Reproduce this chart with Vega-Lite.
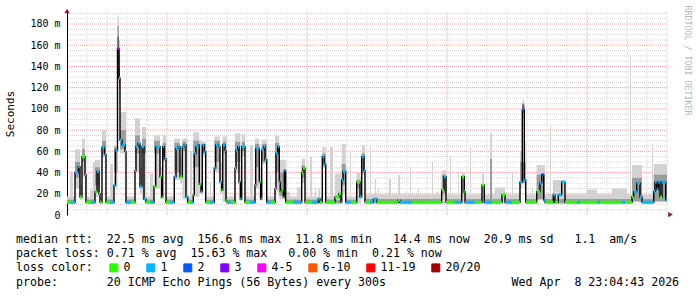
{
 "$schema": "https://vega.github.io/schema/vega-lite/v6.json",
 "width": 600,
 "height": 203,
 "autosize": {"type": "none"},
 "padding": {"left": 67, "top": 12, "right": 30, "bottom": 82},
 "background": "white",
 "config": {"view": {"stroke": null}, "font": "DejaVu Sans Mono"},
 "title": {
  "text": [
   "median rtt:\u00a0\u00a022.5 ms avg\u00a0\u00a0156.6 ms max\u00a0\u00a011.8 ms min\u00a0\u00a0\u00a014.4 ms now\u00a0\u00a020.9 ms sd\u00a0\u00a0\u00a01.1\u00a0\u00a0am/s",
   "packet loss:\u00a00.71 % avg\u00a0\u00a015.63 % max\u00a0\u00a0\u00a00.00 % min\u00a0\u00a00.21 % now"
  ],
  "subtitle": "probe:\u00a0\u00a0\u00a0\u00a0\u00a0\u00a0\u00a020 ICMP Echo Pings (56 Bytes) every 300s\u00a0\u00a0\u00a0\u00a0\u00a0\u00a0\u00a0\u00a0\u00a0\u00a0\u00a0\u00a0\u00a0\u00a0\u00a0\u00a0\u00a0\u00a0Wed Apr\u00a0\u00a08 23:04:43 2026",
  "orient": "bottom", "anchor": "start", "frame": "group", "dx": -51, "dy": -56, "offset": 16,
  "font": "DejaVu Sans Mono", "fontSize": 11.6, "fontWeight": "normal", "color": "#000", "lineHeight": 13.7,
  "subtitleFont": "DejaVu Sans Mono", "subtitleFontSize": 11.6, "subtitleFontWeight": "normal", "subtitleColor": "#000", "subtitlePadding": 17.5
 },
 "datasets": {
  "grid": [
   {"d":"h","v":5,"k":"mi"},{"d":"h","v":10,"k":"mi"},{"d":"h","v":15,"k":"mi"},{"d":"h","v":25,"k":"mi"},{"d":"h","v":30,"k":"mi"},{"d":"h","v":35,"k":"mi"},{"d":"h","v":45,"k":"mi"},{"d":"h","v":50,"k":"mi"},{"d":"h","v":55,"k":"mi"},{"d":"h","v":65,"k":"mi"},{"d":"h","v":70,"k":"mi"},{"d":"h","v":75,"k":"mi"},{"d":"h","v":85,"k":"mi"},{"d":"h","v":90,"k":"mi"},{"d":"h","v":95,"k":"mi"},{"d":"h","v":105,"k":"mi"},{"d":"h","v":110,"k":"mi"},{"d":"h","v":115,"k":"mi"},{"d":"h","v":125,"k":"mi"},{"d":"h","v":130,"k":"mi"},{"d":"h","v":135,"k":"mi"},{"d":"h","v":145,"k":"mi"},{"d":"h","v":150,"k":"mi"},{"d":"h","v":155,"k":"mi"},{"d":"h","v":165,"k":"mi"},{"d":"h","v":170,"k":"mi"},{"d":"h","v":175,"k":"mi"},{"d":"h","v":185,"k":"mi"},{"d":"h","v":190,"k":"mi"},
   {"d":"h","v":20,"k":"ma"},{"d":"h","v":40,"k":"ma"},{"d":"h","v":60,"k":"ma"},{"d":"h","v":80,"k":"ma"},{"d":"h","v":100,"k":"ma"},{"d":"h","v":120,"k":"ma"},{"d":"h","v":140,"k":"ma"},{"d":"h","v":160,"k":"ma"},{"d":"h","v":180,"k":"ma"},
   {"d":"v","v":20,"k":"mi"},{"d":"v","v":40,"k":"mi"},{"d":"v","v":60,"k":"mi"},{"d":"v","v":80,"k":"mi"},{"d":"v","v":120,"k":"mi"},{"d":"v","v":140,"k":"mi"},{"d":"v","v":160,"k":"mi"},{"d":"v","v":180,"k":"mi"},{"d":"v","v":200,"k":"mi"},{"d":"v","v":220,"k":"mi"},{"d":"v","v":260,"k":"mi"},{"d":"v","v":280,"k":"mi"},{"d":"v","v":300,"k":"mi"},{"d":"v","v":320,"k":"mi"},{"d":"v","v":340,"k":"mi"},{"d":"v","v":360,"k":"mi"},{"d":"v","v":400,"k":"mi"},{"d":"v","v":420,"k":"mi"},{"d":"v","v":440,"k":"mi"},{"d":"v","v":460,"k":"mi"},{"d":"v","v":480,"k":"mi"},{"d":"v","v":500,"k":"mi"},{"d":"v","v":540,"k":"mi"},{"d":"v","v":560,"k":"mi"},{"d":"v","v":580,"k":"mi"},{"d":"v","v":600,"k":"mi"},
   {"d":"v","v":100,"k":"ma"},{"d":"v","v":240,"k":"ma"},{"d":"v","v":380,"k":"ma"},{"d":"v","v":520,"k":"ma"}
  ],
  "arrows": [
   {"s":0,"v":192.2,"sh":"triangle-up"},
   {"s":603.5,"v":0.4,"sh":"triangle-right"}
  ],
  "med": [
   {"a":0,"b":4,"m":12,"lc":"0"},{"a":4,"b":8,"m":12,"lc":"1"},{"a":8,"b":11.3,"m":40,"lc":"1"},{"a":11.3,"b":13,"m":45.5,"lc":"1"},{"a":13,"b":15,"m":17,"lc":"0"},{"a":15,"b":18,"m":55,"lc":"0"},{"a":18,"b":19,"m":38,"lc":"1"},{"a":19,"b":24,"m":12,"lc":"0"},{"a":24,"b":28,"m":12,"lc":"1"},{"a":28,"b":30,"m":22,"lc":"0"},{"a":30,"b":32,"m":41,"lc":"1"},{"a":32,"b":33,"m":20,"lc":"0"},{"a":33,"b":35,"m":12,"lc":"0"},{"a":35,"b":37.5,"m":64,"lc":"1"},{"a":37.5,"b":39,"m":57,"lc":"1"},{"a":39,"b":43,"m":12,"lc":"0"},{"a":43,"b":47,"m":12,"lc":"1"},{"a":47,"b":48.5,"m":28,"lc":"1"},{"a":48.5,"b":50.5,"m":61,"lc":"1"},{"a":50.5,"b":52,"m":157,"lc":"4-5"},{"a":52,"b":53,"m":129,"lc":"1"},{"a":53,"b":55,"m":70.7,"lc":"1"},{"a":55,"b":58,"m":66,"lc":"1"},{"a":58,"b":59,"m":59.7,"lc":"1"},{"a":59,"b":64,"m":12,"lc":"1"},{"a":64,"b":68,"m":12,"lc":"0"},{"a":68,"b":69,"m":42,"lc":"1"},{"a":69,"b":71,"m":64.4,"lc":"1"},{"a":71,"b":73,"m":67.5,"lc":"1"},{"a":73,"b":75,"m":26.7,"lc":"1"},{"a":75,"b":77,"m":64.4,"lc":"1"},{"a":77,"b":79,"m":15,"lc":"1"},{"a":79,"b":83,"m":12,"lc":"0"},{"a":83,"b":87,"m":12,"lc":"1"},{"a":87,"b":88.7,"m":27,"lc":"0"},{"a":88.7,"b":93,"m":64.4,"lc":"1"},{"a":93,"b":94.7,"m":36,"lc":"0"},{"a":94.7,"b":95.7,"m":17,"lc":"0"},{"a":95.7,"b":97.3,"m":64.4,"lc":"1"},{"a":97.3,"b":99,"m":53,"lc":"1"},
   {"a":99,"b":103,"m":12,"lc":"0"},{"a":103,"b":107.3,"m":12,"lc":"1"},{"a":107.3,"b":109,"m":36,"lc":"1"},{"a":109,"b":111.3,"m":62.8,"lc":"1"},{"a":111.3,"b":113,"m":64.4,"lc":"1"},{"a":113,"b":115.3,"m":36,"lc":"0"},{"a":115.3,"b":117.3,"m":64.4,"lc":"1"},{"a":117.3,"b":119,"m":66,"lc":"1"},{"a":119,"b":120.7,"m":17,"lc":"1"},{"a":120.7,"b":124,"m":12,"lc":"0"},{"a":124,"b":126.3,"m":12,"lc":"1"},{"a":126.3,"b":127.3,"m":19,"lc":"0"},{"a":127.3,"b":129,"m":58,"lc":"1"},{"a":129,"b":131.3,"m":64.4,"lc":"1"},{"a":131.3,"b":132.3,"m":66,"lc":"1"},{"a":132.3,"b":134,"m":29,"lc":"0"},{"a":134,"b":135.3,"m":22,"lc":"1"},{"a":135.3,"b":137.3,"m":66,"lc":"1"},{"a":137.3,"b":138.7,"m":59.7,"lc":"1"},{"a":138.7,"b":143,"m":12,"lc":"0"},{"a":143,"b":147.3,"m":12,"lc":"1"},{"a":147.3,"b":148.7,"m":44,"lc":"1"},{"a":148.7,"b":151.3,"m":66,"lc":"1"},{"a":151.3,"b":153,"m":64.4,"lc":"1"},{"a":153,"b":154.7,"m":31,"lc":"1"},{"a":154.7,"b":155.7,"m":23.6,"lc":"0"},{"a":155.7,"b":158,"m":66,"lc":"1"},{"a":158,"b":159,"m":61,"lc":"1"},{"a":159,"b":160,"m":13.6,"lc":"0"},{"a":160,"b":164,"m":12,"lc":"1"},{"a":164,"b":168,"m":12,"lc":"0"},{"a":168,"b":169,"m":44,"lc":"0"},{"a":169,"b":170.7,"m":61,"lc":"1"},{"a":170.7,"b":172,"m":64.4,"lc":"1"},{"a":172,"b":173.3,"m":31,"lc":"1"},{"a":173.3,"b":174.7,"m":15,"lc":"1"},{"a":174.7,"b":178,"m":64.4,"lc":"1"},{"a":178,"b":183,"m":12,"lc":"0"},{"a":183,"b":188,"m":12,"lc":"1"},{"a":188,"b":188.7,"m":28,"lc":"0"},{"a":188.7,"b":192.3,"m":62.8,"lc":"1"},{"a":192.3,"b":193.7,"m":31,"lc":"0"},{"a":193.7,"b":194.7,"m":15,"lc":"0"},{"a":194.7,"b":197,"m":61,"lc":"1"},{"a":197,"b":198,"m":64.4,"lc":"1"},{"a":198,"b":199.7,"m":52,"lc":"1"},
   {"a":199.7,"b":204,"m":12,"lc":"1"},{"a":204,"b":208,"m":12,"lc":"0"},{"a":208,"b":209,"m":25,"lc":"0"},{"a":209,"b":210.7,"m":58,"lc":"1"},{"a":210.7,"b":212.3,"m":64.4,"lc":"1"},{"a":212.3,"b":213.3,"m":31,"lc":"0"},{"a":213.3,"b":214.7,"m":22,"lc":"0"},{"a":214.7,"b":216.3,"m":23.6,"lc":"0"},{"a":216.3,"b":217.3,"m":17,"lc":"0"},{"a":217.3,"b":218.7,"m":42,"lc":"1"},{"a":218.7,"b":226,"m":12,"lc":"0"},{"a":226,"b":234.7,"m":12,"lc":"1"},{"a":234.7,"b":236,"m":40,"lc":"0"},{"a":236,"b":238,"m":44,"lc":"0"},{"a":238,"b":245,"m":12,"lc":"0"},{"a":245,"b":251.3,"m":12,"lc":"1"},{"a":251.3,"b":253,"m":15,"lc":"1"},{"a":253,"b":255.3,"m":12,"lc":"0"},{"a":255.3,"b":257.3,"m":55,"lc":"1"},{"a":257.3,"b":258.7,"m":48,"lc":"1"},{"a":258.7,"b":268,"m":12,"lc":"0"},{"a":268,"b":272,"m":17,"lc":"0"},{"a":272,"b":274,"m":20,"lc":"0"},{"a":274,"b":274.7,"m":12,"lc":"0"},{"a":274.7,"b":276,"m":33,"lc":"1"},{"a":276,"b":278.7,"m":41,"lc":"1"},{"a":278.7,"b":284,"m":12,"lc":"1"},{"a":284,"b":289.7,"m":12,"lc":"0"},{"a":289.7,"b":293,"m":31,"lc":"0"},{"a":293,"b":294.7,"m":17,"lc":"1"},{"a":294.7,"b":297,"m":55,"lc":"1"},{"a":297,"b":298,"m":42,"lc":"1"},
   {"a":298,"b":303,"m":12,"lc":"0"},{"a":303,"b":306.3,"m":12,"lc":"1"},{"a":306.3,"b":309.7,"m":15,"lc":"1"},{"a":309.7,"b":320,"m":12,"lc":"0"},{"a":320,"b":331,"m":12,"lc":"0"},{"a":331,"b":333,"m":14,"lc":"0"},{"a":333,"b":345,"m":12,"lc":"1"},{"a":345,"b":360,"m":12,"lc":"0"},{"a":360,"b":374.7,"m":12,"lc":"0"},{"a":374.7,"b":377,"m":23.6,"lc":"0"},{"a":377,"b":379,"m":36,"lc":"1"},{"a":379,"b":388,"m":12,"lc":"0"},{"a":388,"b":394.7,"m":12,"lc":"1"},{"a":394.7,"b":397.3,"m":36,"lc":"0"},{"a":397.3,"b":398,"m":22,"lc":"0"},{"a":398,"b":408,"m":12,"lc":"1"},{"a":408,"b":415,"m":12,"lc":"0"},{"a":415,"b":417.3,"m":28,"lc":"0"},{"a":417.3,"b":425,"m":12,"lc":"1"},{"a":425,"b":435,"m":12,"lc":"0"},{"a":435,"b":438,"m":19,"lc":"0"},{"a":438,"b":445,"m":12,"lc":"1"},{"a":445,"b":453,"m":12,"lc":"0"},{"a":453,"b":455.3,"m":31,"lc":"1"},{"a":455.3,"b":457.3,"m":99,"lc":"2"},{"a":457.3,"b":458.7,"m":33,"lc":"1"},{"a":458.7,"b":469.7,"m":12,"lc":"0"},{"a":469.7,"b":473,"m":22,"lc":"0"},{"a":473,"b":474.7,"m":30,"lc":"1"},{"a":474.7,"b":476.7,"m":38,"lc":"2"},{"a":476.7,"b":478,"m":14,"lc":"1"},{"a":478,"b":486.3,"m":12,"lc":"0"},{"a":486.3,"b":488,"m":19,"lc":"1"},{"a":488,"b":491.3,"m":12,"lc":"0"},{"a":491.3,"b":494.7,"m":19,"lc":"1"},{"a":494.7,"b":498,"m":31,"lc":"1"},
   {"a":498,"b":510,"m":12,"lc":"0"},{"a":510,"b":513,"m":12,"lc":"1"},{"a":513,"b":530,"m":12,"lc":"0"},{"a":530,"b":533,"m":12,"lc":"1"},{"a":533,"b":555,"m":12,"lc":"0"},{"a":555,"b":558,"m":12,"lc":"1"},{"a":558,"b":565,"m":12,"lc":"0"},{"a":565,"b":566.7,"m":17,"lc":"0"},{"a":566.7,"b":569.7,"m":22,"lc":"1"},{"a":569.7,"b":573,"m":30,"lc":"1"},{"a":573,"b":575,"m":17,"lc":"1"},{"a":575,"b":586.7,"m":12,"lc":"1"},{"a":586.7,"b":588,"m":22,"lc":"1"},{"a":588,"b":589.7,"m":31,"lc":"1"},{"a":589.7,"b":591.3,"m":24,"lc":"1"},{"a":591.3,"b":593,"m":31,"lc":"1"},{"a":593,"b":595,"m":17,"lc":"0"},{"a":595,"b":598.7,"m":31,"lc":"1"},{"a":598.7,"b":600,"m":14.4,"lc":"1"},{"a":600,"b":600,"m":14.4,"lc":"1"}
  ],
  "smoke": [
   {"a":0,"b":8,"lo":10.8,"hi":17.5,"g":"l"},{"a":19,"b":28,"lo":10.8,"hi":17.5,"g":"l"},{"a":33,"b":35,"lo":10.8,"hi":17.5,"g":"l"},{"a":39,"b":47,"lo":10.8,"hi":17.5,"g":"l"},{"a":59,"b":68,"lo":10.8,"hi":17.5,"g":"l"},{"a":79,"b":87,"lo":10.8,"hi":17.5,"g":"l"},{"a":99,"b":107.3,"lo":10.8,"hi":17.5,"g":"l"},{"a":120.7,"b":126.3,"lo":10.8,"hi":17.5,"g":"l"},{"a":138.7,"b":147.3,"lo":10.8,"hi":17.5,"g":"l"},{"a":160,"b":168,"lo":10.8,"hi":17.5,"g":"l"},{"a":178,"b":188,"lo":10.8,"hi":17.5,"g":"l"},{"a":199.7,"b":208,"lo":10.8,"hi":17.5,"g":"l"},{"a":218.7,"b":234.7,"lo":10.8,"hi":17.5,"g":"l"},{"a":238,"b":255.3,"lo":10.8,"hi":17.5,"g":"l"},{"a":258.7,"b":274.7,"lo":10.8,"hi":17.5,"g":"l"},{"a":278.7,"b":289.7,"lo":10.8,"hi":17.5,"g":"l"},
   {"a":298,"b":374.7,"lo":10.8,"hi":19.5,"g":"l"},{"a":379,"b":394.7,"lo":10.8,"hi":19.5,"g":"l"},{"a":398,"b":415,"lo":10.8,"hi":19.5,"g":"l"},{"a":417.3,"b":435,"lo":10.8,"hi":19.5,"g":"l"},{"a":438,"b":453,"lo":10.8,"hi":19.5,"g":"l"},{"a":458.7,"b":469.7,"lo":10.8,"hi":19.5,"g":"l"},{"a":478,"b":565,"lo":10.8,"hi":19.5,"g":"l"},{"a":575,"b":586.7,"lo":10.8,"hi":19.5,"g":"l"},
   {"a":3,"b":6,"lo":10.8,"hi":41,"g":"l"},{"a":23,"b":26,"lo":10.8,"hi":24,"g":"l"},{"a":26,"b":28,"lo":10.8,"hi":50,"g":"l"},{"a":43,"b":46,"lo":10.8,"hi":48,"g":"l"},{"a":83,"b":86,"lo":10.8,"hi":39,"g":"l"},
   {"a":123,"b":125,"lo":10.8,"hi":60,"g":"l"},{"a":143,"b":144,"lo":10.8,"hi":31,"g":"l"},{"a":183,"b":186,"lo":10.8,"hi":66,"g":"l"},{"a":203,"b":204,"lo":10.8,"hi":38,"g":"l"},
   {"a":220,"b":223,"lo":10.8,"hi":22,"g":"l"},{"a":230,"b":234.7,"lo":10.8,"hi":26,"g":"l"},{"a":243,"b":245,"lo":10.8,"hi":55,"g":"l"},{"a":248,"b":249,"lo":10.8,"hi":25,"g":"l"},{"a":263,"b":266,"lo":10.8,"hi":64,"g":"l"},{"a":268,"b":274,"lo":10.8,"hi":39,"g":"l"},{"a":283,"b":284,"lo":10.8,"hi":61,"g":"l"},{"a":289,"b":294,"lo":10.8,"hi":36,"g":"l"},
   {"a":303,"b":304,"lo":10.8,"hi":64,"g":"l"},{"a":308,"b":309,"lo":10.8,"hi":34,"g":"l"},{"a":311,"b":312,"lo":10.8,"hi":25,"g":"l"},{"a":322,"b":324,"lo":10.8,"hi":34,"g":"l"},{"a":331,"b":333,"lo":10.8,"hi":38,"g":"l"},{"a":343,"b":344,"lo":10.8,"hi":45,"g":"l"},{"a":351,"b":352,"lo":10.8,"hi":25,"g":"l"},{"a":365,"b":366,"lo":10.8,"hi":50,"g":"l"},{"a":370,"b":371,"lo":10.8,"hi":22,"g":"l"},{"a":376,"b":378,"lo":10.8,"hi":40,"g":"l"},{"a":383,"b":384,"lo":10.8,"hi":55,"g":"l"},{"a":391,"b":392,"lo":10.8,"hi":39,"g":"l"},{"a":395,"b":397,"lo":10.8,"hi":36,"g":"l"},
   {"a":403,"b":404,"lo":10.8,"hi":64,"g":"l"},{"a":415,"b":417,"lo":10.8,"hi":39,"g":"l"},{"a":423,"b":425,"lo":10.8,"hi":77,"g":"l"},{"a":428,"b":438,"lo":10.8,"hi":26,"g":"l"},{"a":445,"b":446,"lo":10.8,"hi":41,"g":"l"},{"a":465,"b":466,"lo":10.8,"hi":25,"g":"l"},{"a":483,"b":484,"lo":10.8,"hi":84,"g":"l"},{"a":486,"b":498,"lo":10.8,"hi":33,"g":"l"},
   {"a":520,"b":530,"lo":10.8,"hi":24,"g":"l"},{"a":545,"b":560,"lo":10.8,"hi":25,"g":"l"},{"a":563,"b":564,"lo":10.8,"hi":151,"g":"l"},{"a":585,"b":586,"lo":10.8,"hi":67,"g":"l"},
   {"a":8,"b":13,"lo":25,"hi":62,"g":"l"},{"a":13,"b":15,"lo":14,"hi":30,"g":"l"},{"a":15,"b":18,"lo":36,"hi":72,"g":"l"},{"a":18,"b":19,"lo":20,"hi":50,"g":"l"},{"a":28,"b":33,"lo":17,"hi":52,"g":"l"},{"a":35,"b":39,"lo":54,"hi":80,"g":"l"},{"a":47,"b":50.5,"lo":26,"hi":66,"g":"l"},{"a":50.5,"b":52,"lo":128,"hi":188,"g":"l"},{"a":52,"b":53,"lo":105,"hi":165,"g":"l"},{"a":53,"b":59,"lo":58,"hi":97,"g":"l"},{"a":68,"b":73,"lo":40,"hi":91,"g":"l"},{"a":73,"b":75,"lo":20,"hi":45,"g":"l"},{"a":75,"b":79,"lo":14,"hi":83,"g":"l"},{"a":87,"b":93,"lo":25,"hi":75,"g":"l"},{"a":93,"b":95.7,"lo":15,"hi":45,"g":"l"},{"a":95.7,"b":99,"lo":50,"hi":75,"g":"l"},
   {"a":107.3,"b":113,"lo":33,"hi":72,"g":"l"},{"a":113,"b":115.3,"lo":30,"hi":55,"g":"l"},{"a":115.3,"b":120.7,"lo":15,"hi":72,"g":"l"},{"a":126.3,"b":132.3,"lo":17,"hi":78,"g":"l"},{"a":132.3,"b":135.3,"lo":20,"hi":70,"g":"l"},{"a":135.3,"b":138.7,"lo":55,"hi":69,"g":"l"},{"a":147.3,"b":153,"lo":40,"hi":74,"g":"l"},{"a":153,"b":155.7,"lo":20,"hi":50,"g":"l"},{"a":155.7,"b":160,"lo":12,"hi":74,"g":"l"},{"a":168,"b":173.3,"lo":40,"hi":77,"g":"l"},{"a":173.3,"b":174.7,"lo":14,"hi":45,"g":"l"},{"a":174.7,"b":178,"lo":55,"hi":76,"g":"l"},{"a":188,"b":192.3,"lo":25,"hi":72,"g":"l"},{"a":192.3,"b":194.7,"lo":14,"hi":45,"g":"l"},{"a":194.7,"b":199.7,"lo":48,"hi":71,"g":"l"},
   {"a":208,"b":212.3,"lo":22,"hi":75,"g":"l"},{"a":212.3,"b":218.7,"lo":15,"hi":52,"g":"l"},{"a":234.7,"b":238,"lo":30,"hi":53,"g":"l"},{"a":251.3,"b":253,"lo":12,"hi":25,"g":"l"},{"a":255.3,"b":258.7,"lo":44,"hi":64,"g":"l"},{"a":274.7,"b":278.7,"lo":20,"hi":67,"g":"l"},{"a":289.7,"b":293,"lo":25,"hi":40,"g":"l"},{"a":294.7,"b":298,"lo":38,"hi":66,"g":"l"},
   {"a":374.7,"b":379,"lo":18,"hi":42,"g":"l"},{"a":394.7,"b":398,"lo":18,"hi":40,"g":"l"},
   {"a":453,"b":455.3,"lo":25,"hi":60,"g":"l"},{"a":455.3,"b":457.3,"lo":90,"hi":108,"g":"l"},{"a":457.3,"b":458.7,"lo":25,"hi":70,"g":"l"},{"a":469.7,"b":478,"lo":14,"hi":47,"g":"l"},
   {"a":565,"b":575,"lo":12,"hi":47,"g":"l"},{"a":586.7,"b":600,"lo":12,"hi":48,"g":"l"},
   {"a":0,"b":8,"lo":11,"hi":14.5,"g":"m"},{"a":19,"b":28,"lo":11,"hi":14.5,"g":"m"},{"a":33,"b":35,"lo":11,"hi":14.5,"g":"m"},{"a":39,"b":47,"lo":11,"hi":14.5,"g":"m"},{"a":59,"b":68,"lo":11,"hi":14.5,"g":"m"},{"a":79,"b":87,"lo":11,"hi":14.5,"g":"m"},{"a":99,"b":107.3,"lo":11,"hi":14.5,"g":"m"},{"a":120.7,"b":126.3,"lo":11,"hi":14.5,"g":"m"},{"a":138.7,"b":147.3,"lo":11,"hi":14.5,"g":"m"},{"a":160,"b":168,"lo":11,"hi":14.5,"g":"m"},{"a":178,"b":188,"lo":11,"hi":14.5,"g":"m"},{"a":199.7,"b":208,"lo":11,"hi":14.5,"g":"m"},{"a":218.7,"b":234.7,"lo":11,"hi":14.5,"g":"m"},{"a":238,"b":255.3,"lo":11,"hi":14.5,"g":"m"},{"a":258.7,"b":274.7,"lo":11,"hi":14.5,"g":"m"},{"a":278.7,"b":289.7,"lo":11,"hi":14.5,"g":"m"},
   {"a":298,"b":374.7,"lo":11,"hi":15,"g":"m"},{"a":379,"b":394.7,"lo":11,"hi":15,"g":"m"},{"a":398,"b":415,"lo":11,"hi":15,"g":"m"},{"a":417.3,"b":435,"lo":11,"hi":15,"g":"m"},{"a":438,"b":453,"lo":11,"hi":15,"g":"m"},{"a":458.7,"b":469.7,"lo":11,"hi":15,"g":"m"},{"a":478,"b":565,"lo":11,"hi":15,"g":"m"},{"a":575,"b":586.7,"lo":11,"hi":15,"g":"m"},
   {"a":8,"b":13,"lo":35,"hi":50,"g":"m"},{"a":15,"b":18,"lo":50,"hi":62,"g":"m"},{"a":28,"b":33,"lo":28,"hi":45,"g":"m"},{"a":35,"b":39,"lo":58,"hi":70,"g":"m"},{"a":47,"b":50.5,"lo":40,"hi":64,"g":"m"},{"a":50.5,"b":52,"lo":145,"hi":178,"g":"m"},{"a":52,"b":53,"lo":120,"hi":150,"g":"m"},{"a":53,"b":59,"lo":62,"hi":80,"g":"m"},{"a":68,"b":73,"lo":58,"hi":75,"g":"m"},{"a":75,"b":79,"lo":58,"hi":72,"g":"m"},{"a":87,"b":93,"lo":58,"hi":70,"g":"m"},{"a":95.7,"b":99,"lo":52,"hi":68,"g":"m"},
   {"a":107.3,"b":113,"lo":40,"hi":68,"g":"m"},{"a":115.3,"b":119,"lo":60,"hi":69,"g":"m"},{"a":126.3,"b":132.3,"lo":45,"hi":70,"g":"m"},{"a":135.3,"b":138.7,"lo":58,"hi":67,"g":"m"},{"a":147.3,"b":153,"lo":50,"hi":70,"g":"m"},{"a":155.7,"b":159,"lo":58,"hi":69,"g":"m"},{"a":168,"b":173.3,"lo":50,"hi":69,"g":"m"},{"a":174.7,"b":178,"lo":60,"hi":69,"g":"m"},{"a":188,"b":192.3,"lo":45,"hi":67,"g":"m"},{"a":194.7,"b":199.7,"lo":50,"hi":67,"g":"m"},
   {"a":208,"b":212.3,"lo":40,"hi":68,"g":"m"},{"a":212.3,"b":218.7,"lo":18,"hi":40,"g":"m"},{"a":234.7,"b":238,"lo":35,"hi":47,"g":"m"},{"a":255.3,"b":258.7,"lo":46,"hi":58,"g":"m"},{"a":274.7,"b":278.7,"lo":28,"hi":48,"g":"m"},{"a":289.7,"b":293,"lo":25,"hi":33,"g":"m"},{"a":294.7,"b":298,"lo":40,"hi":58,"g":"m"},
   {"a":374.7,"b":379,"lo":20,"hi":38,"g":"m"},{"a":394.7,"b":398,"lo":20,"hi":36,"g":"m"},{"a":423,"b":425,"lo":12,"hi":53,"g":"m"},
   {"a":453,"b":458.7,"lo":30,"hi":50,"g":"m"},{"a":455.3,"b":457.3,"lo":95,"hi":105,"g":"m"},{"a":469.7,"b":478,"lo":15,"hi":38,"g":"m"},
   {"a":565,"b":575,"lo":13,"hi":35,"g":"m"},{"a":586.7,"b":600,"lo":13,"hi":38,"g":"m"},
   {"a":50.5,"b":52,"lo":150,"hi":168,"g":"d"},{"a":52,"b":53,"lo":125,"hi":140,"g":"d"},{"a":455.3,"b":457.3,"lo":97,"hi":104,"g":"d"}
  ]
 },
 "layer": [
  {
   "data": {"name": "grid"},
   "transform": [{"filter": "datum.d == 'h' && datum.k == 'mi'"}],
   "mark": {"type": "rule", "color": "#d4d4d4", "strokeDash": [1, 1], "strokeWidth": 1},
   "encoding": {
    "y": {"field": "v", "type": "quantitative", "scale": {"domain": [0, 191.3], "nice": false, "zero": false},
     "axis": {"orient": "left", "values": [0, 20, 40, 60, 80, 100, 120, 140, 160, 180], "labelExpr": "datum.value == 0 ? '0' : datum.value + ' m'", "ticks": false, "grid": false, "domain": true, "domainColor": "#000", "domainWidth": 1, "labelFont": "DejaVu Sans Mono", "labelFontSize": 10, "labelColor": "#000", "labelPadding": 7, "title": "Seconds", "titleFont": "DejaVu Sans Mono", "titleFontSize": 11, "titleFontWeight": "normal", "titleColor": "#000", "titleAngle": 270, "titleX": -57, "titleY": 101.5, "titleAlign": "center", "titleBaseline": "middle"}}
   }
  },
  {
   "data": {"name": "grid"},
   "transform": [{"filter": "datum.d == 'v' && datum.k == 'mi'"}],
   "mark": {"type": "rule", "color": "#d4d4d4", "strokeDash": [1, 1], "strokeWidth": 1},
   "encoding": {
    "x": {"field": "v", "type": "quantitative", "scale": {"domain": [0, 600], "nice": false, "zero": false},
     "axis": {"orient": "bottom", "values": [30, 170, 310, 450, 590], "labelExpr": "'Week ' + (11 + (datum.value - 30) / 140)", "ticks": false, "grid": false, "domainColor": "#000", "domainWidth": 1, "labelFont": "DejaVu Sans Mono", "labelFontSize": 10, "labelColor": "#000", "labelPadding": 4, "labelFlush": false, "labelOverlap": false, "labelBound": false, "title": null}}
   }
  },
  {
   "data": {"name": "grid"},
   "transform": [{"filter": "datum.d == 'h' && datum.k == 'ma'"}],
   "mark": {"type": "rule", "color": "#f0a8a8", "strokeDash": [1, 1], "strokeWidth": 1},
   "encoding": {
    "y": {"field": "v", "type": "quantitative", "scale": {"domain": [0, 191.3], "nice": false, "zero": false}, "axis": null}
   }
  },
  {
   "data": {"name": "grid"},
   "transform": [{"filter": "datum.d == 'v' && datum.k == 'ma'"}],
   "mark": {"type": "rule", "color": "#f0a8a8", "strokeDash": [1, 1], "strokeWidth": 1},
   "encoding": {
    "x": {"field": "v", "type": "quantitative", "scale": {"domain": [0, 600], "nice": false, "zero": false}, "axis": null}
   }
  },
  {
   "data": {"name": "smoke"},
   "transform": [{"filter": "datum.g == 'l'"}],
   "mark": {"type": "rect", "color": "#d2d2d2"},
   "encoding": {
    "x": {"field": "a", "type": "quantitative", "scale": {"domain": [0, 600], "nice": false, "zero": false}, "axis": null},
    "x2": {"field": "b"},
    "y": {"field": "lo", "type": "quantitative", "scale": {"domain": [0, 191.3], "nice": false, "zero": false}, "axis": null},
    "y2": {"field": "hi"}
   }
  },
  {
   "data": {"name": "smoke"},
   "transform": [{"filter": "datum.g == 'm'"}],
   "mark": {"type": "rect", "color": "#9c9c9c"},
   "encoding": {
    "x": {"field": "a", "type": "quantitative", "scale": {"domain": [0, 600], "nice": false, "zero": false}, "axis": null},
    "x2": {"field": "b"},
    "y": {"field": "lo", "type": "quantitative", "scale": {"domain": [0, 191.3], "nice": false, "zero": false}, "axis": null},
    "y2": {"field": "hi"}
   }
  },
  {
   "data": {"name": "smoke"},
   "transform": [{"filter": "datum.g == 'd'"}],
   "mark": {"type": "rect", "color": "#5a5a5a"},
   "encoding": {
    "x": {"field": "a", "type": "quantitative", "scale": {"domain": [0, 600], "nice": false, "zero": false}, "axis": null},
    "x2": {"field": "b"},
    "y": {"field": "lo", "type": "quantitative", "scale": {"domain": [0, 191.3], "nice": false, "zero": false}, "axis": null},
    "y2": {"field": "hi"}
   }
  },
  {
   "data": {"name": "med"},
   "mark": {"type": "line", "interpolate": "step-after", "color": "#000", "strokeWidth": 1.4},
   "encoding": {
    "x": {"field": "a", "type": "quantitative", "scale": {"domain": [0, 600], "nice": false, "zero": false}, "axis": null},
    "y": {"field": "m", "type": "quantitative", "scale": {"domain": [0, 191.3], "nice": false, "zero": false},
     "axis": {"orient": "right", "title": "RRDTOOL / TOBI OETIKER", "labels": false, "ticks": false, "domain": false, "grid": false, "titleAngle": 90, "titleAlign": "left", "titleBaseline": "middle", "titleX": 19, "titleY": -7, "titleFont": "DejaVu Sans Mono", "titleFontSize": 8.3, "titleFontWeight": "normal", "titleColor": "#b8b8b8"}}
   }
  },
  {
   "data": {"name": "med"},
   "mark": {"type": "rule", "strokeWidth": 3},
   "encoding": {
    "x": {"field": "a", "type": "quantitative", "scale": {"domain": [0, 600], "nice": false, "zero": false}, "axis": null},
    "x2": {"field": "b"},
    "y": {"field": "m", "type": "quantitative", "scale": {"domain": [0, 191.3], "nice": false, "zero": false}, "axis": null},
    "color": {"field": "lc", "type": "nominal", "scale": {"domain": ["0", "1", "2", "3", "4-5", "6-10", "11-19", "20/20"], "range": ["#26ff00", "#00b8ff", "#0059ff", "#7e00ff", "#ff00ff", "#ff5500", "#ff0000", "#a10000"]},
     "legend": {"orient": "none", "legendX": -51, "legendY": 250, "direction": "horizontal", "title": "loss color:", "titleOrient": "left", "titleFont": "DejaVu Sans Mono", "titleFontSize": 11.6, "titleFontWeight": "normal", "titleColor": "#000", "titlePadding": 15, "labelFont": "DejaVu Sans Mono", "labelFontSize": 11.6, "labelColor": "#000", "labelOffset": 4, "columnPadding": 13, "symbolType": "square", "symbolSize": 64, "symbolStrokeColor": "#000", "symbolStrokeWidth": 1, "symbolOpacity": 1,
      "encode": {"symbols": {"update": {"fill": {"scale": "color", "field": "value"}, "stroke": {"value": "#000"}, "strokeWidth": {"value": 1}, "shape": {"value": "square"}, "size": {"value": 64}, "opacity": {"value": 1}}}}}}
   }
  },
  {
   "data": {"name": "arrows"},
   "mark": {"type": "point", "filled": true, "color": "#8b1a1a", "size": 28, "opacity": 1},
   "encoding": {
    "x": {"field": "s", "type": "quantitative", "scale": {"domain": [0, 600], "nice": false, "zero": false}, "axis": null},
    "y": {"field": "v", "type": "quantitative", "scale": {"domain": [0, 191.3], "nice": false, "zero": false}, "axis": null},
    "shape": {"field": "sh", "type": "nominal", "scale": null}
   }
  }
 ],
 "resolve": {"axis": {"y": "independent"}}
}
